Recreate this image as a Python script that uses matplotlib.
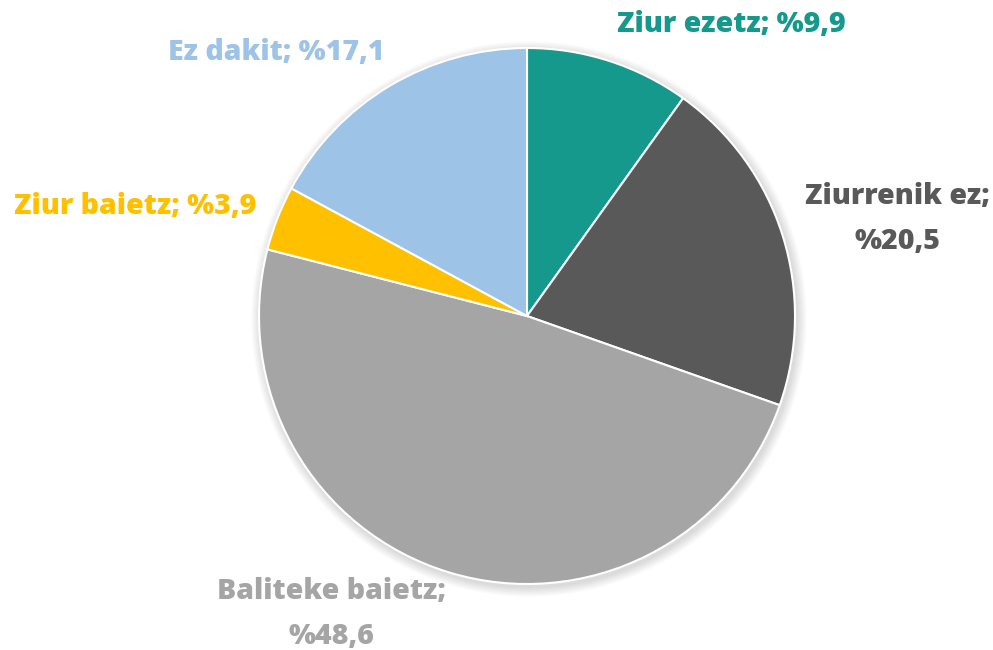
import matplotlib.pyplot as plt
from matplotlib.patches import Circle

labels = ["Ziur ezetz", "Ziurrenik ez", "Baliteke baietz", "Ziur baietz", "Ez dakit"]
values = [9.9, 20.5, 48.6, 3.9, 17.1]
colors = ["#14998C", "#595959", "#A5A5A5", "#FFC000", "#9DC3E6"]

# label text and where it sits (pixel coords, origin bottom-left)
label_text = [
    "Ziur ezetz; %9,9",
    "Ziurrenik ez;\n%20,5",
    "Baliteke baietz;\n%48,6",
    "Ziur baietz; %3,9",
    "Ez dakit; %17,1",
]
label_pos = [(731, 625), (897, 431), (331, 36), (135, 443), (276, 598)]

fig = plt.figure(figsize=(9.93, 6.5), dpi=100)
ax = fig.add_axes([0, 0, 1, 1])

cx, cy, r = 527, 334, 268

# soft shadow
for i in range(12):
    ax.add_patch(Circle((cx + 2, cy - 3), r + 1 + i * 0.8, color="black",
                        alpha=0.012, lw=0, zorder=0))

ax.pie(values, colors=colors, startangle=90, counterclock=False,
       center=(cx, cy), radius=r, frame=True,
       wedgeprops=dict(edgecolor="white", linewidth=1.5))
ax.set_xlim(0, 993)
ax.set_ylim(0, 650)
ax.set_aspect("equal")
ax.axis("off")

for txt, (x, y), c in zip(label_text, label_pos, colors):
    ax.text(x, y, txt, ha="center", va="center", color=c, fontsize=20.5,
            fontweight=800, family="Open Sans", linespacing=1.75)

fig.savefig("out.png", dpi=100)
